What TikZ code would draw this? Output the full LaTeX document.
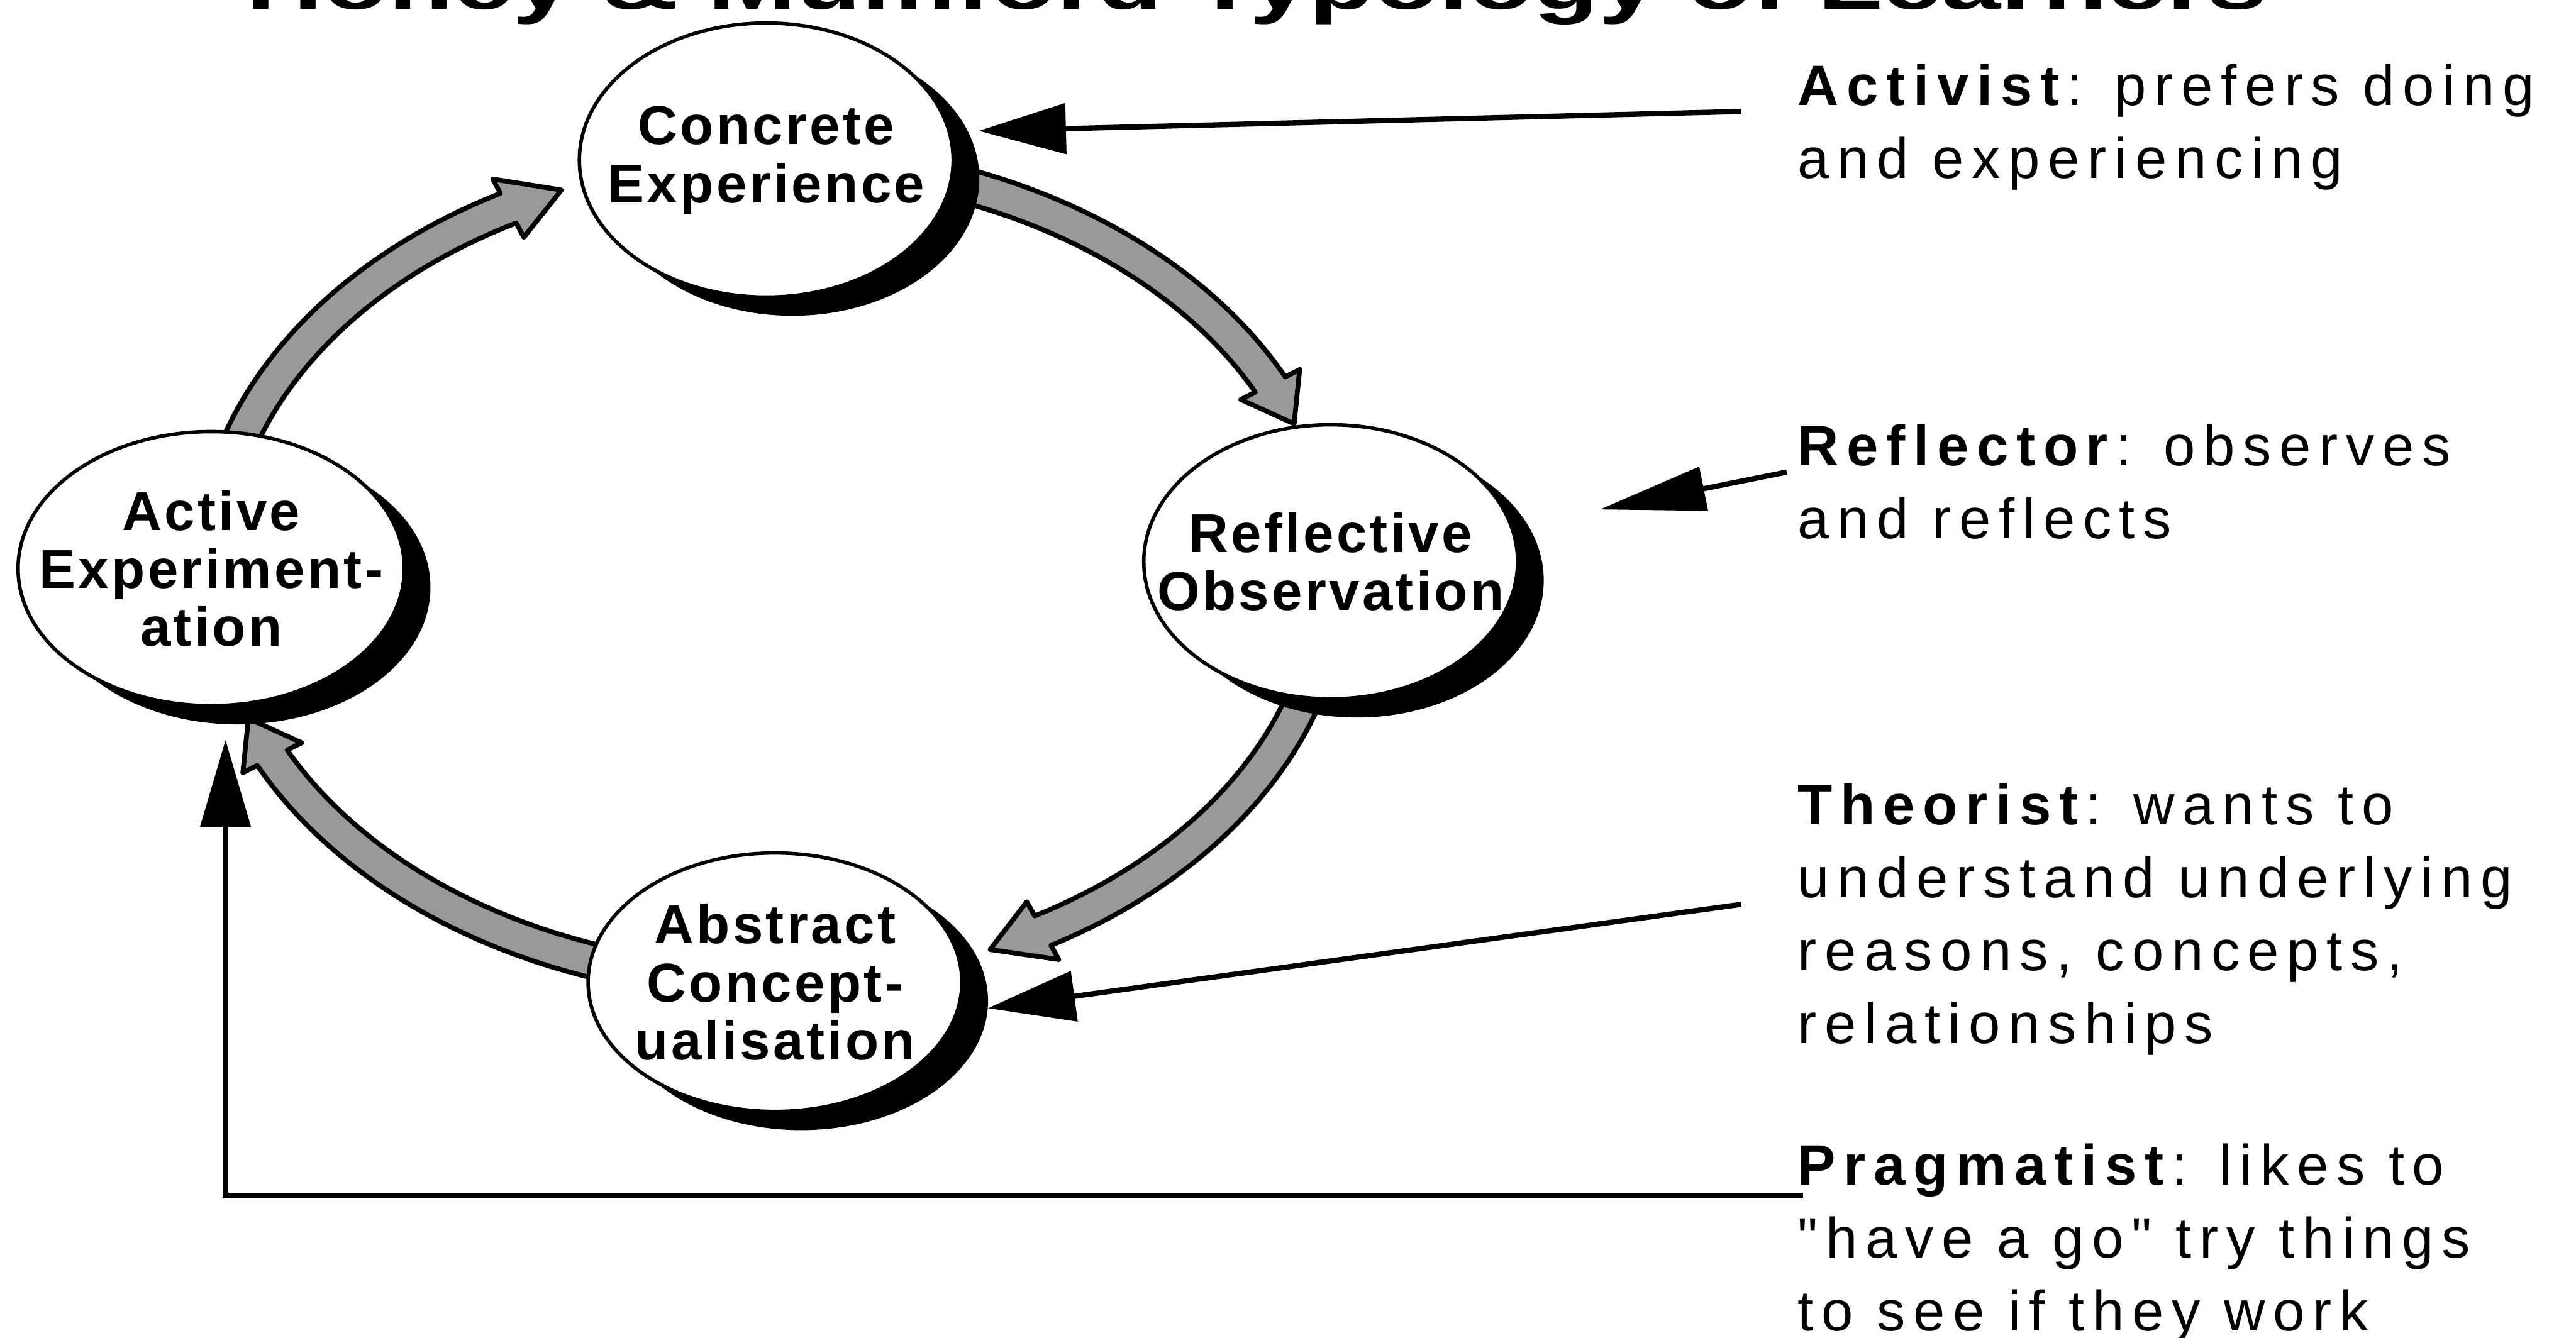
\documentclass[tikz,border=0pt]{standalone}
\usepackage{fontspec}
\setmainfont{Liberation Sans}
\newfontfamily\descfont{Liberation Sans}[LetterSpace=14]
\newfontfamily\stagefont{Liberation Sans}[LetterSpace=5]
\usetikzlibrary{shapes.geometric,shadows,arrows.meta}

\begin{document}
\begin{tikzpicture}
\tikzstyle{stage}=[ellipse, draw, line width=1.6pt, fill=white,
  minimum width=6cm, minimum height=4.4cm, inner xsep=-0.8cm, inner ysep=0pt, align=center,
  font=\stagefont\bfseries\fontsize{25}{26.5}\selectfont,
  drop shadow={fill=black, opacity=1, shadow xshift=0.42cm, shadow yshift=-0.3cm}]
\tikzstyle{learner}=[anchor=base west, inner sep=0pt, align=left,
  font=\descfont\fontsize{26}{33.3}\selectfont]
\tikzstyle{pointer}=[line width=2.4pt, -{Triangle[length=14mm,width=8mm]}]
\tikzstyle{loopband}=[draw=black, line width=2.2pt, fill=black!40, line join=round]

\useasboundingbox (0,0) rectangle (41.35,-21.48);
\clip (0,0) rectangle (41.35,-21.48);
\fill[white] (0,0) rectangle (41.35,-21.48);

% title, cut off by the top edge
\node(title)[anchor=base west, inner sep=0pt, font=\bfseries\fontsize{34}{34}\selectfont]
  at (3.95,-0.15) {\scalebox{1.43}[1]{Honey \& Mumford Typology of Learners}};

% the learning cycle
\foreach \a/\b in {170/112, 80/21, -10/-67, -100/-159} {
  \pgfmathsetmacro\tipbase{\b+6}
  \draw[loopband] ({12.38+9.26*cos(\a)},{-9.17+6.87*sin(\a)})
    arc[start angle=\a, end angle=\tipbase, x radius=9.26, y radius=6.87]
    -- ({12.38+9.52*cos(\tipbase)},{-9.17+7.13*sin(\tipbase)})
    -- ({12.38+8.99*cos(\b)},{-9.17+6.6*sin(\b)})
    -- ({12.38+8.46*cos(\tipbase)},{-9.17+6.07*sin(\tipbase)})
    -- ({12.38+8.72*cos(\tipbase)},{-9.17+6.33*sin(\tipbase)})
    arc[start angle=\tipbase, end angle=\a, x radius=8.72, y radius=6.33]
    -- cycle;
}

\node(ce)[stage]   at (12.30, -2.57) {Concrete\\Experience};
\node(ro)[stage]   at (21.36, -9.02) {Reflective\\Observation};
\node(ac)[stage, minimum height=4.15cm] at (12.44,-15.77) {Abstract\\Concept-\\ualisation};
\node(ae)[stage, minimum width=6.2cm] at ( 3.39, -9.13) {Active\\Experiment-\\ation};

% learner types (placed by the baseline of their last line)
\node(act)[learner]  at (28.85, -2.86) {\textbf{Activist}: prefers doing\\and experiencing};
\node(refl)[learner] at (28.85, -8.65) {\textbf{Reflector}: observes\\and reflects};
\node(theo)[learner] at (28.85,-16.75) {\textbf{Theorist}: wants to\\understand underlying\\reasons, concepts,\\relationships};
\node(prag)[learner] at (28.85,-21.37) {\textbf{Pragmatist}: likes to\\"have a go" try things\\to see if they work};

\coordinate(act-end)  at (27.95, -1.79);
\coordinate(refl-end) at (28.68, -7.58);
\coordinate(refl-tip) at (25.68, -8.18);
\coordinate(theo-end) at (27.95,-14.52);
\coordinate(prag-end) at (28.94,-19.19);
\coordinate(prag-tip) at ( 3.62,-11.88);

\draw[pointer] (act-end) -- ([xshift=0.45cm]ce.9);
\draw[pointer, -{Triangle[length=17mm,width=7mm]}] (refl-end) -- (refl-tip);
\draw[pointer] (theo-end) -- ([xshift=0.45cm]ac.-8);
\draw[pointer] (prag-end) -| (prag-tip);

\end{tikzpicture}
\end{document}
